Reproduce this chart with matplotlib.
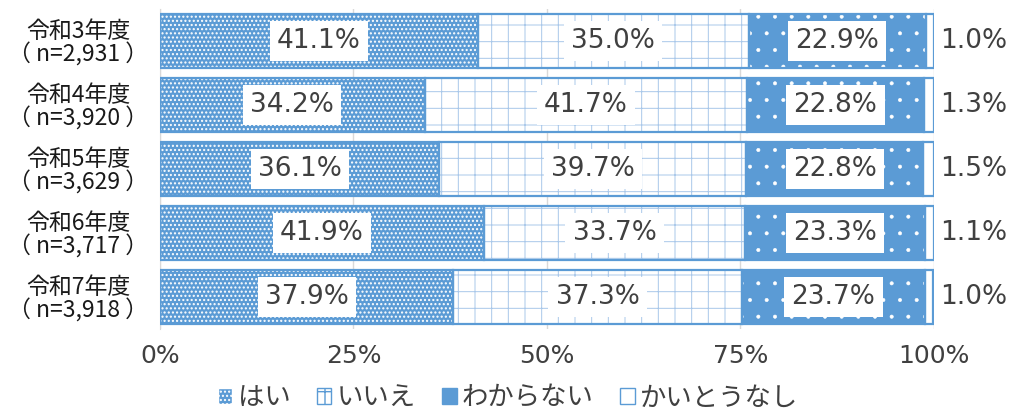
import numpy as np
import matplotlib
matplotlib.use('Agg')
import matplotlib.pyplot as plt
from matplotlib.patches import Patch

plt.rcParams['font.family'] = ['Noto Sans CJK JP', 'DejaVu Sans']
plt.rcParams['hatch.linewidth'] = 1.0

# --- data ---
years = ['令和3年度\n（ n=2,931 ）', '令和4年度\n（ n=3,920 ）', '令和5年度\n（ n=3,629 ）',
         '令和6年度\n（ n=3,717 ）', '令和7年度\n（ n=3,918 ）']
series_names = ['はい', 'いいえ', 'わからない', 'かいとうなし']
hai = [41.1, 34.2, 36.1, 41.9, 37.9]
iie = [35.0, 41.7, 39.7, 33.7, 37.3]
wakaranai = [22.9, 22.8, 22.8, 23.3, 23.7]
kaitou_nashi = [1.0, 1.3, 1.5, 1.1, 1.0]
x_ticks = [0, 25, 50, 75, 100]

blue = '#5B9BD5'
text_col = '#404040'
num_font = ['DejaVu Sans']

# (facecolor, hatch colour, hatch, hatch linewidth)
styles = [
    (blue, 'white', '....', 1.0),
    ('white', '#A9C8EA', '+', 0.7),
    (blue, 'white', '.', 0.4),
    ('white', blue, None, 1.0),
]

fig = plt.figure(figsize=(10.16, 4.11), dpi=100)
ax = fig.add_axes([0.1575, 0.1995, 0.7615, 0.7786])

y = np.arange(len(years))
all_series = [hai, iie, wakaranai, kaitou_nashi]
left = np.zeros(len(years))
bar_h = 0.84

for k, vals in enumerate(all_series):
    vals = np.array(vals)
    fc, hc, hatch, hlw = styles[k]
    plt.rcParams['hatch.linewidth'] = hlw
    ax.barh(y, vals, left=left, height=bar_h, color=fc, edgecolor=hc,
            hatch=hatch, linewidth=0, zorder=2)
    # outline
    ax.barh(y, vals, left=left, height=bar_h, color='none', edgecolor=blue,
            linewidth=1.6, zorder=3)
    for i, v in enumerate(vals):
        if k < 3:
            fam = num_font
            if k == 2 and i == 4:
                fam = ['Liberation Sans Narrow', 'DejaVu Sans']
            ax.text(left[i] + v / 2, y[i], f'{v:.1f}%', ha='center', va='center',
                    fontsize=19, color=text_col, family=fam, zorder=5,
                    bbox=dict(boxstyle='square,pad=0.27', fc='white', ec='none'))
        else:
            ax.text(100.8, y[i], f'{v:.1f}%', ha='left', va='center', family=num_font,
                    fontsize=19, color=text_col, zorder=5, clip_on=False)
    left = left + vals

ax.set_xlim(0, 100)
ax.set_ylim(len(years) - 0.5, -0.5)
ax.set_xticks(x_ticks)
ax.set_xticklabels([f'{t}%' for t in x_ticks], fontsize=18, color=text_col,
                   family=num_font)
ax.set_yticks(y)
ax.set_yticklabels(years, fontsize=16.5, color='#1a1a1a', linespacing=1.0,
                   ha='center', multialignment='center')
ax.tick_params(axis='x', length=0, pad=11)
ax.tick_params(axis='y', length=0, pad=59)
ax.xaxis.grid(True, color='#D9D9D9', linewidth=1.0, zorder=0)
ax.set_axisbelow(True)
for s in ['top', 'right', 'bottom']:
    ax.spines[s].set_visible(False)
ax.spines['left'].set_color('#D9D9D9')

plt.rcParams['hatch.linewidth'] = 1.0
handles = []
for k in range(4):
    fc, hc, hatch, hlw = styles[k]
    handles.append(Patch(facecolor=fc, edgecolor=blue if k != 0 else 'white',
                         hatch=hatch, linewidth=1.0))
leg = fig.legend(handles, series_names, loc='center', bbox_to_anchor=(0.5, 0.032),
                 ncol=4, frameon=False, fontsize=19, handlelength=0.55,
                 handleheight=0.55, handletextpad=0.2, columnspacing=1.0)
for t in leg.get_texts():
    t.set_color(text_col)

fig.savefig('out.png', dpi=100)
